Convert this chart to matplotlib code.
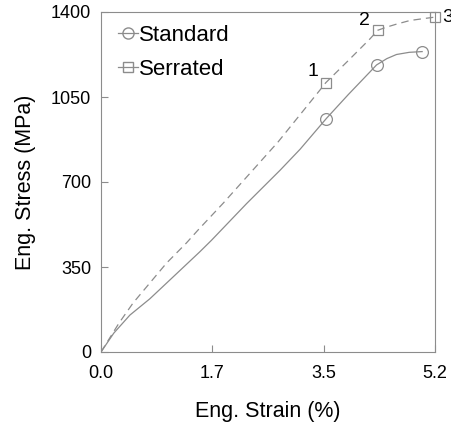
import numpy as np
import matplotlib
matplotlib.use('Agg')
import matplotlib.pyplot as plt

plt.rcParams['font.family'] = ['Liberation Sans', 'DejaVu Sans']

#curve values
std_strain = [0.0, 0.20, 0.45, 0.76, 1.07, 1.54, 1.72, 2.27, 2.79, 3.10, 3.51, 3.85, 4.19, 4.29,
              4.45, 4.60, 4.80, 5.00]
std_stress = [0, 78, 152, 219, 296, 413, 460, 612, 749, 835, 962, 1060, 1154, 1182,
              1208, 1225, 1234, 1237]
ser_strain = [0.0, 0.28, 0.50, 0.76, 1.02, 1.33, 1.51, 1.90, 2.32, 2.76, 3.41, 3.50, 3.85, 4.19,
              4.31, 4.45, 4.60, 4.81, 5.00, 5.20]
ser_stress = [0, 119, 202, 284, 366, 449, 502, 612, 736, 866, 1079, 1109, 1200, 1290,
              1325, 1338, 1350, 1365, 1372, 1379]

#marker points
std_mark_x = [3.51, 4.29, 5.00]
std_mark_y = [960, 1182, 1237]
ser_mark_x = [3.50, 4.31, 5.20]
ser_mark_y = [1109, 1325, 1379]
ser_labels = ['1', '2', '3']

x_ticks = [0, 5.2 / 3, 2 * 5.2 / 3, 5.2]
x_tick_labels = ['0.0', '1.7', '3.5', '5.2']
y_ticks = [0, 350, 700, 1050, 1400]

gray = '#8c8c8c'

fig = plt.figure(figsize=(4.52, 4.24), dpi=100)
ax = fig.add_axes([101 / 452, 72 / 424, 334 / 452, 340 / 424])

ax.plot(std_strain, std_stress, color=gray, lw=0.9, solid_joinstyle='round')
ax.plot(ser_strain, ser_stress, color=gray, lw=0.9, ls=(0, (6, 4)))
ax.plot(std_mark_x, std_mark_y, ls='none', marker='o', ms=8.5, mfc='none', mec=gray, mew=0.9)
ax.plot(ser_mark_x, ser_mark_y, ls='none', marker='s', ms=7.5, mfc='none', mec=gray, mew=0.9, clip_on=False)

#point numbers next to the serrated markers
offsets = [(-5, 2), (-6, 1), (5, 0)]
aligns = [('right', 'bottom'), ('right', 'bottom'), ('left', 'center')]
for x, y, t, off, al in zip(ser_mark_x, ser_mark_y, ser_labels, offsets, aligns):
    ax.annotate(t, (x, y), xytext=off, textcoords='offset points', ha=al[0], va=al[1],
                fontsize=14, annotation_clip=False)

#legend handles
h1, = ax.plot([], [], color=gray, lw=0.9, marker='o', ms=8, mfc='none', mec=gray)
h2, = ax.plot([], [], color=gray, lw=0.9, marker='s', ms=7.5, mfc='none', mec=gray)
ax.legend([h1, h2], ['Standard', 'Serrated'], loc='upper left', frameon=False, fontsize=16,
          handlelength=0.9, handletextpad=0.05, labelspacing=0.6, borderpad=0.4,
          borderaxespad=0.1, bbox_to_anchor=(0.018, 0.995))

ax.set_xlim(0, 5.2)
ax.set_ylim(0, 1400)
ax.set_xticks(x_ticks)
ax.set_xticklabels(x_tick_labels)
ax.set_yticks(y_ticks)
ax.tick_params(direction='in', length=5, color=gray, labelsize=13)
ax.tick_params(axis='x', pad=9)
ax.tick_params(axis='y', pad=7)
for s in ax.spines.values():
    s.set_color(gray)
ax.set_xlabel('Eng. Strain (%)', fontsize=15.5, labelpad=14)
ax.set_ylabel('Eng. Stress (MPa)', fontsize=15.5, labelpad=11)

fig.savefig('out.png', dpi=100)
